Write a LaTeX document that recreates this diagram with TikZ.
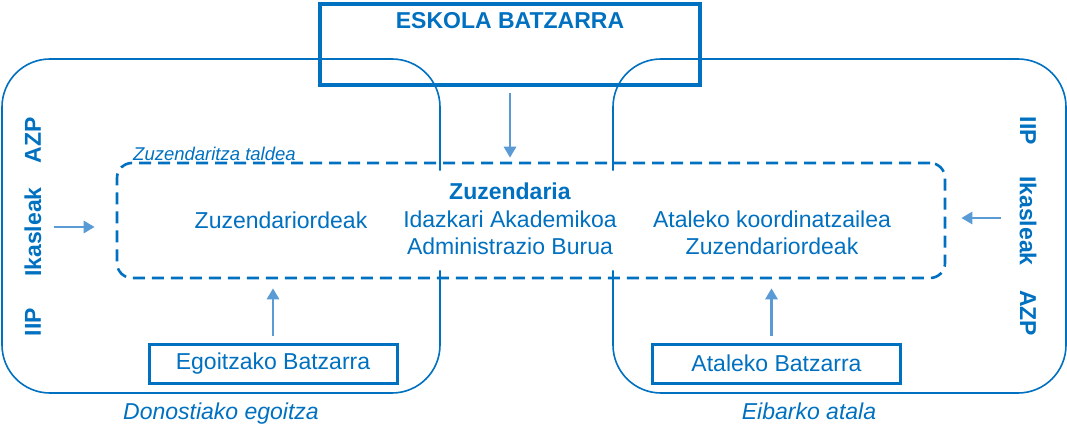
\documentclass[tikz,border=0pt]{standalone}
\usepackage{fontspec}
\setmainfont{Liberation Sans}
\usepackage{tikz}
\usetikzlibrary{arrows.meta,positioning}
\definecolor{orgblue}{HTML}{0070C0}
\definecolor{flowblue}{HTML}{5B9BD5}

\begin{document}
\begin{tikzpicture}[x=1pt, y=-1pt,
    every node/.style={text=orgblue, font=\fontsize{23}{27.5}\selectfont},
    region/.style={draw=orgblue, line width=1.6pt, rounded corners=48pt, minimum height=334pt},
    bigbox/.style={draw=orgblue, line width=3.3pt, minimum width=380pt, minimum height=81pt},
    meetbox/.style={draw=orgblue, line width=3pt, minimum width=248pt, minimum height=39pt, inner sep=0pt},
    teambox/.style={draw=orgblue, line width=2.6pt, dash pattern=on 12pt off 7pt, rounded corners=15pt, minimum width=828pt, minimum height=115pt},
    side/.style={font=\fontsize{23}{27.5}\selectfont\bfseries, inner sep=0pt},
    caption/.style={font=\fontsize{23}{27.5}\selectfont\itshape},
    flow/.style={draw=flowblue, line width=2.8pt, -{Triangle[length=11pt,width=12pt]}}]
                  \useasboundingbox (0,0) rectangle (1067,441);

                  % Sites
                  \node [region, minimum width=438pt] (donostia) at (221,226) {};
                  \node [region, minimum width=453pt] (eibar) at (839.5,226) {};
                  \node [caption, below=5pt of donostia] (donostiaCap) {Donostiako egoitza};
                  \node [caption, below=5pt of eibar, xshift=-30.5pt] (eibarCap) {Eibarko atala};

                  % Management team
                  \node [teambox] (team) at (531,220.5) {};
                  \fill [white, rounded corners=8pt] ([shift={(9,9)}]team.north west) rectangle ([shift={(-9,-9)}]team.south east);
                  \node [font=\fontsize{18.5}{22}\selectfont\itshape, anchor=base west, inner sep=0pt] (teamCap) at (133,160) {Zuzendaritza taldea};
                  \node [align=center] (head) at (510,219) {\textbf{Zuzendaria}\\Idazkari Akademikoa\\Administrazio Burua};
                  \node (deputiesL) at (281,220) {Zuzendariordeak};
                  \node [align=center] (coordR) at (772,233) {Ataleko koordinatzailea\\Zuzendariordeak};

                  % Assemblies
                  \node [bigbox, label={[side, anchor=north, yshift=-10pt]north:ESKOLA BATZARRA}] (school) at (510,44.5) {};
                  \node [meetbox] (egoitza) at (273,363.5) {Egoitzako Batzarra};
                  \node [meetbox] (atal) at (776.5,363.5) {Ataleko Batzarra};

                  % Side groups
                  \node [side, rotate=90] (azpL) at (33,140) {AZP};
                  \node [side, rotate=90] (ikL) at (33,232) {Ikasleak};
                  \node [side, rotate=90] (iipL) at (33,322) {IIP};
                  \node [side, rotate=-90] (iipR) at (1028,131) {IIP};
                  \node [side, rotate=-90] (ikR) at (1028,221) {Ikasleak};
                  \node [side, rotate=-90] (azpR) at (1028,313) {AZP};
                  \coordinate (fromL) at (54,227);
                  \coordinate (fromR) at (1001,218);

                  % Arrows
                  \draw [flow, shorten <=6pt, shorten >=4pt] (school.south) -- (school.south |- team.north);
                  \draw [flow, shorten <=7pt, shorten >=9pt] (egoitza.north) -- (egoitza.north |- team.south);
                  \draw [flow, shorten <=7pt, shorten >=9pt] ([xshift=-5pt]atal.north) -- ([xshift=-5pt]atal.north |- team.south);
                  \draw [flow, shorten >=21pt] (fromL) -- (fromL -| team.west);
                  \draw [flow, shorten >=15pt] (fromR) -- (fromR -| team.east);
              \end{tikzpicture}
\end{document}
